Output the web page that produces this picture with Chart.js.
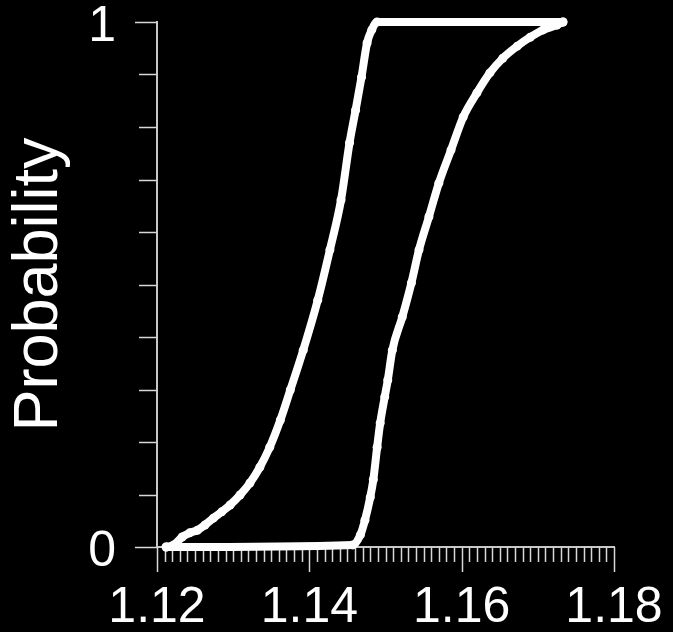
<!DOCTYPE html>
<html>
<head>
<meta charset="utf-8">
<script src="https://cdn.jsdelivr.net/npm/chart.js@4.4.1/dist/chart.umd.min.js"></script>
<style>
  html, body { margin: 0; padding: 0; background: #000; }
  canvas { display: block; }
</style>
</head>
<body>
<canvas id="chart" width="673" height="632"></canvas>
<script>
// left (upper) curve
const leftX = [1.1212, 1.1222, 1.1233, 1.1243, 1.1253, 1.1263, 1.1274, 1.1285, 1.1296, 1.1309, 1.1322, 1.1335, 1.1348,
  1.1362, 1.1375, 1.1392, 1.1411, 1.1427, 1.14416, 1.14528, 1.14607, 1.14685, 1.14758, 1.1482, 1.1489, 1.1733];
const leftP = [0, 0.004, 0.019, 0.027, 0.032, 0.042, 0.055, 0.067, 0.080, 0.099, 0.122, 0.152, 0.190,
  0.242, 0.299, 0.375, 0.470, 0.566, 0.661, 0.770, 0.832, 0.895, 0.960, 0.985, 1, 1];

// right (lower) curve
const rightX = [1.1212, 1.1457, 1.1467, 1.1473, 1.1480, 1.1484, 1.1489, 1.1493, 1.1499, 1.1503, 1.1509, 1.1522, 1.1534,
  1.1544, 1.1557, 1.1570, 1.1586, 1.1602, 1.1620, 1.1637, 1.1654, 1.1673, 1.1690, 1.1707, 1.1725, 1.1733];
const rightP = [0, 0.004, 0.023, 0.051, 0.095, 0.128, 0.190, 0.236, 0.286, 0.318, 0.375, 0.438, 0.503,
  0.566, 0.629, 0.693, 0.756, 0.819, 0.865, 0.903, 0.931, 0.954, 0.971, 0.985, 0.994, 1];

const xMin = 1.12, xMax = 1.18, xStep = 0.02, xMinorStep = 0.001;
const yTickValues = [0, 0.1, 0.2, 0.3, 0.4, 0.5, 0.6, 0.7, 0.8, 0.9, 1];
const yLabels = ['0', '', '', '', '', '', '', '', '', '', '1'];

const fontFamily = "'Liberation Sans', Arial, sans-serif";

function points(xs, ps) {
  return xs.map(function(v, i) { return {x: v, y: ps[i]}; });
}

function noPadding(scale) {
  scale.paddingTop = 0;
  scale.paddingBottom = 0;
  scale.paddingLeft = 0;
  scale.paddingRight = 0;
}

// major/minor tick marks drawn from the scales
const tickMarks = {
  id: 'tickMarks',
  beforeDatasetsDraw(chart) {
    const ctx = chart.ctx;
    const xs = chart.scales.x;
    const ys = chart.scales.y;
    const area = chart.chartArea;
    ctx.save();
    ctx.strokeStyle = '#d8d8d8';
    ctx.lineWidth = 1.5;
    const n = Math.round((xMax - xMin) / xMinorStep);
    const every = Math.round(xStep / xMinorStep);
    for (let i = 0; i <= n; i++) {
      const px = Math.round(xs.getPixelForValue(xMin + i * xMinorStep)) + 0.5;
      const major = i % every === 0;
      ctx.beginPath();
      ctx.moveTo(px, area.bottom);
      ctx.lineTo(px, area.bottom + (major ? 25 : 15));
      ctx.stroke();
    }
    for (let i = 0; i < yTickValues.length; i++) {
      const py = Math.round(ys.getPixelForValue(yTickValues[i])) + 0.5;
      const major = yLabels[i] !== '';
      ctx.beginPath();
      ctx.moveTo(area.left, py);
      ctx.lineTo(area.left - (major ? 22 : 18), py);
      ctx.stroke();
    }
    ctx.restore();
  }
};

const lineStyle = {
  borderColor: '#ffffff',
  backgroundColor: '#ffffff',
  borderWidth: 8,
  pointRadius: 4.5,
  pointBorderWidth: 0,
  pointBackgroundColor: '#ffffff',
  cubicInterpolationMode: 'monotone',
  clip: false
};

const chart = new Chart(document.getElementById('chart'), {
  type: 'line',
  data: {
    datasets: [
      Object.assign({label: 'left', data: points(leftX, leftP)}, lineStyle),
      Object.assign({label: 'right', data: points(rightX, rightP)}, lineStyle)
    ]
  },
  options: {
    responsive: false,
    animation: false,
    layout: { padding: { left: 0, right: 59, top: 22, bottom: 0 } },
    plugins: { legend: { display: false }, tooltip: { enabled: false } },
    scales: {
      x: {
        type: 'linear',
        min: xMin,
        max: xMax,
        afterFit(scale) { scale.height = 85; noPadding(scale); },
        grid: { display: false, drawTicks: false },
        border: { display: true, color: '#c8c8c8', width: 2 },
        ticks: {
          stepSize: xStep,
          padding: 31,
          color: '#ffffff',
          maxRotation: 0,
          autoSkip: false,
          font: { family: fontFamily, size: 50 },
          callback: function(v) { return v.toFixed(2); }
        }
      },
      y: {
        min: 0,
        max: 1,
        afterFit(scale) { scale.width = 157; noPadding(scale); },
        grid: { display: false, drawTicks: false },
        border: { display: true, color: '#c8c8c8', width: 2 },
        title: {
          display: true,
          text: 'Probability',
          color: '#ffffff',
          font: { family: fontFamily, size: 63 },
          padding: { top: 2, bottom: 0 }
        },
        ticks: {
          stepSize: 0.1,
          padding: 41,
          labelOffset: 5,
          color: '#ffffff',
          font: { family: fontFamily, size: 50 },
          callback: function(v) {
            const i = Math.round(v * 10);
            return yLabels[i];
          }
        }
      }
    }
  },
  plugins: [tickMarks]
});
</script>
</body>
</html>
